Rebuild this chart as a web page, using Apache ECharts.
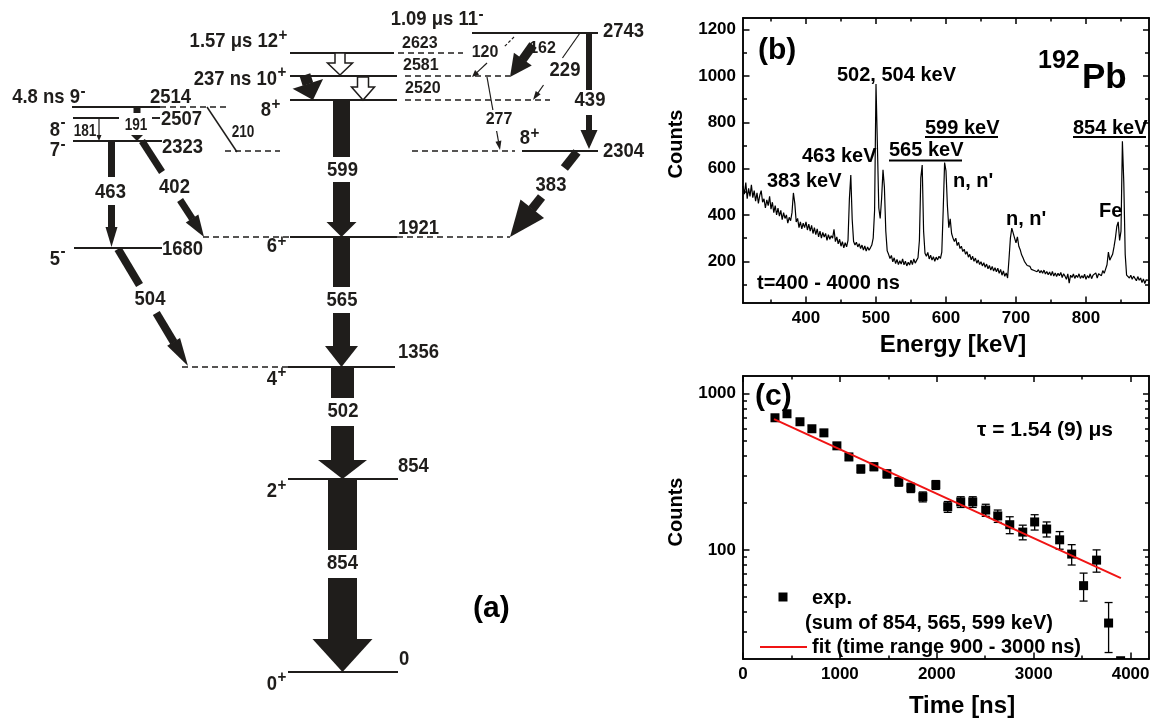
<!DOCTYPE html>
<html>
<head>
<meta charset="utf-8">
<title>192Pb level scheme, spectrum and decay curve</title>
<script src="https://cdn.jsdelivr.net/npm/echarts@6.0.0/dist/echarts.min.js"></script>
<style>
html,body{margin:0;padding:0;background:#fff;}
#chart{width:1158px;height:722px;}
</style>
</head>
<body>
<div id="chart"></div>
<script>
// ================= DATA =================
// ---- (a) level scheme of 192Pb ----
const levelEnergy = [0, 854, 1356, 1680, 1921, 2304, 2323, 2507, 2514, 2520, 2581, 2623, 2743];
const levelSpin   = ['0+', '2+', '4+', '5-', '6+', '8+', '7-', '8-', '9-', '8+', '10+', '12+', '11-'];
const levelLife   = ['', '', '', '', '', '', '', '', '4.8 ns', '', '237 ns', '1.57 \u03bcs', '1.09 \u03bcs'];
const gammaEnergy = [854, 502, 565, 599, 463, 402, 504, 383, 439, 181, 191, 210, 277, 229, 162, 120, 42, 61, 61];
const gammaFrom   = [1, 2, 4, 9, 6, 6, 3, 5, 12, 7, 8, 8, 10, 12, 12, 12, 11, 10, 10];
const gammaTo     = [0, 1, 2, 4, 3, 4, 2, 4, 5, 6, 6, 5, 5, 8, 10, 11, 10, 9, 9];

// ---- (b) delayed gamma spectrum [energy keV, counts] ----
const spectrum = [
[310,525],[312,490],[314,540],[316,470],[318,515],[320,480],[322,530],[324,475],[326,505],[328,460],
[330,495],[332,450],[334,485],[336,505],[338,455],[340,470],[342,430],[344,465],[346,440],[348,480],
[350,425],[352,455],[354,410],[356,440],[358,400],[360,430],[362,395],[364,420],[366,380],[368,410],
[370,385],[372,400],[374,365],[376,390],[378,375],[380,410],[382,495],[384,450],[386,370],[388,385],
[390,345],[392,370],[394,340],[396,365],[398,345],[400,370],[402,335],[404,360],[406,330],[408,355],
[410,320],[412,345],[414,315],[416,340],[418,305],[420,330],[422,300],[424,325],[426,305],[428,320],
[430,290],[432,315],[434,295],[436,310],[438,300],[440,338],[442,285],[444,305],[446,275],[448,295],
[450,265],[452,285],[454,258],[456,280],[458,262],[460,290],[462,470],[464,572],[466,380],[468,285],
[470,270],[472,282],[474,262],[476,276],[478,255],[480,270],[482,248],[484,266],[486,244],[488,262],
[490,248],[492,258],[494,270],[496,300],[498,420],[500,965],[502,700],[504,430],[506,385],[508,470],
[510,595],[512,520],[514,330],[516,245],[518,230],[520,212],[522,225],[524,198],[526,215],[528,190],
[530,208],[532,186],[534,202],[536,188],[538,210],[540,185],[542,200],[544,180],[546,196],[548,184],
[550,205],[552,186],[554,210],[556,192],[558,204],[560,215],[562,290],[564,560],[566,615],[568,330],
[570,235],[572,222],[574,238],[576,210],[578,226],[580,205],[582,220],[584,200],[586,218],[588,206],
[590,222],[592,212],[594,240],[596,420],[598,626],[600,590],[602,440],[604,345],[606,383],[608,320],
[610,300],[612,285],[614,300],[616,268],[618,282],[620,255],[622,265],[624,242],[626,252],[628,230],
[630,242],[632,218],[634,230],[636,206],[638,222],[640,200],[642,214],[644,192],[646,206],[648,186],
[650,198],[652,180],[654,194],[656,174],[658,188],[660,168],[662,182],[664,162],[666,178],[668,158],
[670,172],[672,155],[674,170],[676,148],[678,165],[680,140],[682,158],[684,135],[686,150],[688,128],
[690,210],[692,300],[694,343],[696,335],[698,300],[700,280],[702,305],[704,265],[706,250],[708,228],
[710,215],[712,200],[714,192],[716,182],[718,175],[720,178],[722,165],[724,172],[726,160],[728,168],
[730,155],[732,164],[734,150],[736,160],[738,148],[740,162],[742,145],[744,156],[746,142],[748,154],
[750,138],[752,156],[754,136],[756,150],[758,134],[760,148],[762,138],[764,152],[766,130],[768,146],
[770,136],[772,122],[774,146],[776,106],[778,140],[780,130],[782,145],[784,126],[786,140],[788,130],
[790,146],[792,126],[794,138],[796,128],[798,144],[800,122],[802,138],[804,128],[806,146],[808,125],
[810,140],[812,132],[814,150],[816,128],[818,146],[820,152],[822,138],[824,160],[826,148],[828,166],
[830,185],[832,240],[834,205],[836,218],[838,230],[840,262],[842,300],[844,350],[846,370],[848,290],
[850,330],[852,718],[854,540],[856,230],[858,140],[860,148],[862,128],[864,140],[866,122],[868,136],
[870,130],[872,116],[874,134],[876,118],[878,128],[880,108],[882,124],[884,104],[886,120],[888,112],
[890,118]
];
const energyMajor = [400, 500, 600, 700, 800];
const energyMinor = [350, 450, 550, 650, 750, 850];
const countMajor  = [200, 400, 600, 800, 1000, 1200];
const countMinor  = [100, 300, 500, 700, 900, 1100];

// ---- (c) decay curve ----
const decayTime   = [330, 454, 588, 711, 835, 969, 1093, 1216, 1351, 1485, 1608, 1732, 1856, 1990, 2113,
                     2247, 2371, 2505, 2629, 2753, 2887, 3010, 3134, 3268, 3392, 3515, 3649, 3773, 3897];
const decayCounts = [702, 745, 662, 597, 562, 464, 394, 330, 341, 307, 273, 250, 219, 261, 189,
                     203, 203, 180, 165, 145, 130, 151, 136, 116, 94, 59, 86, 34, 19.5];
const decayError  = [26, 27, 26, 24, 24, 22, 20, 19, 19, 18, 17, 17, 16, 17, 15,
                     16, 16, 16, 15, 18, 14, 17, 15, 15, 14, 12, 14, 12, 0];
const fitTime   = [320, 3900];
const fitCounts = [689, 66];
const timeMajor = [0, 1000, 2000, 3000, 4000];
const timeMinor = [500, 1500, 2500, 3500];
const logMajor  = [100, 1000];
const logMinor  = [30, 40, 50, 60, 70, 80, 90, 200, 300, 400, 500, 600, 700, 800, 900];

// ================= LAYOUT / STYLE =================
const SANS = '"Liberation Sans", Arial, Helvetica, sans-serif';
const F_BIG = {f: 'bold 21px ' + SANS, sx: 0.88};
const F_MID = {f: 'bold 16px ' + SANS, sx: 1};
const F_SMALL = {f: 'bold 17px ' + SANS, sx: 0.8};
const F_SUP = {f: 'bold 16px ' + SANS, sx: 0.95};
const F_LBL = 'bold 20px ' + SANS;
const INK = '#1f1d1b';

// level drawing layout (diagram is not to scale): y, solid/dashed x-ranges, energy label, spin label
const levelLayout = [
  {y: 672, solid: [[288, 398]], dash: [], e: [399, 659], s: [277, 684], sd: -6},
  {y: 479, solid: [[288, 398]], dash: [], e: [398, 466], s: [277, 491], sd: -5},
  {y: 367, solid: [[288, 395]], dash: [[182, 288]], e: [398, 352], s: [277, 379], sd: -6.5},
  {y: 248, solid: [[74, 162]], dash: [], e: [162, 249], s: [60, 259], sd: -7},
  {y: 237, solid: [[290, 397]], dash: [[203, 290], [397, 510]], e: [398, 228], s: [277, 246.5], sd: -4.5},
  {y: 151, solid: [[522, 598]], dash: [[412, 515], [225, 280]], e: [603, 151], s: [530, 138.5], sd: -4.5},
  {y: 141, solid: [[73, 162]], dash: [], e: [162, 147], s: [60, 150], sd: -5},
  {y: 118, solid: [[73, 119], [152, 160]], dash: [], e: [161, 119.5], s: [60, 130], sd: -7.5},
  {y: 107, solid: [[72, 160]], dash: [[160, 227]], e: [150, 97], s: [80, 97], sd: -5},
  {y: 100, solid: [[290, 397]], dash: [[405, 550]], e: [405, 89], s: [271, 110.5], sd: -5.5, ef: F_MID},
  {y: 76,  solid: [[290, 397]], dash: [[405, 510]], e: [403, 66], s: [277, 79], sd: -6.5, ef: F_MID},
  {y: 53,  solid: [[290, 394]], dash: [[398, 463]], e: [402, 44], s: [278, 41], sd: -5, ef: F_MID},
  {y: 33,  solid: [[472, 598]], dash: [], e: [603, 31], s: [478, 19], sd: -4}
];

// transition drawing layout: path, stem width, head width/length, label gap (y range), label position
const gammaLayout = [
  {p: [[342.5, 479], [342.5, 672]], w: 29, hw: 60, hl: 33, gap: [550, 578], lab: [342.5, 563], f: F_BIG},
  {p: [[342.5, 367], [342.5, 479]], w: 23, hw: 49, hl: 19, gap: [398, 426], lab: [343, 411], f: F_BIG},
  {p: [[341.5, 237], [341.5, 367]], w: 17, hw: 33, hl: 21, gap: [287, 313], lab: [342, 300], f: F_BIG},
  {p: [[341.5, 100], [341.5, 237]], w: 17, hw: 30, hl: 15, gap: [157, 182], lab: [342.5, 170], f: F_BIG},
  {p: [[111.5, 141], [111.5, 247]], w: 7, hw: 12, hl: 20, gap: [177, 205], lab: [110.5, 192.5], f: F_BIG},
  {p: [[142, 141], [204, 237]], w: 7, hw: 15, hl: 22, gap: [172, 200], lab: [174.5, 187.5], f: F_BIG},
  {p: [[118, 249], [188, 366]], w: 8, hw: 15, hl: 28, gap: [285, 313], lab: [150, 299.5], f: F_BIG},
  {p: [[577, 152], [510, 237]], w: 9, hw: 30, hl: 36, gap: [168, 197], lab: [551, 185], f: F_BIG},
  {p: [[589, 33], [589, 149]], w: 6, hw: 17, hl: 19, gap: [90, 115], lab: [590, 100.5], f: F_BIG},
  {p: [[99, 118], [99, 141]], w: 1.2, hw: 5, hl: 6, lab: [85, 131], f: F_SMALL},
  {p: [[137, 107], [137, 141]], w: 7, hw: 12, hl: 6, gap: [113, 135], lab: [136, 125], f: F_SMALL},
  {p: [[207, 107], [237, 152]], w: 1.5, hw: 0, hl: 0, lab: [243, 132.5], f: F_SMALL},
  {p: [[487, 77], [500, 150]], w: 1.2, hw: 6, hl: 9, gap: [110, 131], lab: [499, 119.5], f: F_MID},
  {p: [[580, 33], [533, 100]], w: 1.2, hw: 6, hl: 9, gap: [58, 85], lab: [565, 70.5], f: F_BIG},
  {p: [[533, 45], [510, 77]], w: 9, hw: 22, hl: 22, lab: [542.5, 49], f: F_MID},
  {p: [[487, 63], [472, 77]], w: 1.2, hw: 6, hl: 7, pre: [[514, 37], [504, 47]], lab: [485, 52.5], f: F_MID},
  {p: [[340, 53], [340, 75]], w: 10, hw: 25, hl: 12, kind: 'open'},
  {p: [[305, 75], [313, 100]], w: 11, hw: 32, hl: 17},
  {p: [[363, 77], [363, 100]], w: 11, hw: 23, hl: 13, kind: 'open'}
];

// ================= RENDERERS =================
function txt(x, y, text, F, align) {
  return {type: 'text', x: x, y: y, scaleX: F.sx, style: {text: text, font: F.f, fill: INK,
    align: align, verticalAlign: 'middle'}};
}

function levelRender(params, api) {
  const i = api.value(0);
  const L = levelLayout[i];
  const P = (x, y) => api.coord([x, y]);
  const kids = [];
  const seg = (x0, x1, y, dashed) => {
    const a = P(x0, y), b = P(x1, y);
    const st = {stroke: INK, lineWidth: dashed ? 1.4 : 1.9};
    if (dashed) st.lineDash = [6, 4];
    kids.push({type: 'line', shape: {x1: a[0], y1: a[1], x2: b[0], y2: b[1]}, style: st});
  };
  L.solid.forEach(s => seg(s[0], s[1], L.y, false));
  L.dash.forEach(s => seg(s[0], s[1], L.y, true));
  const e = P(L.e[0], L.e[1]);
  kids.push(txt(e[0], e[1], String(levelEnergy[i]), L.ef || F_BIG, 'left'));
  const spin = levelSpin[i];
  const main = (levelLife[i] ? levelLife[i] + ' ' : '') + spin.slice(0, -1);
  const s = P(L.s[0], L.s[1]);
  kids.push(txt(s[0], s[1], main, F_BIG, 'right'));
  const u = P(L.s[0] + 0.5, L.s[1] + L.sd);
  kids.push(txt(u[0], u[1], spin.slice(-1), F_SUP, 'left'));
  return {type: 'group', children: kids};
}

function gammaRender(params, api) {
  const i = api.value(0);
  const G = gammaLayout[i];
  const kids = [];
  const a = api.coord(G.p[0]), b = api.coord(G.p[1]);
  const dx = b[0] - a[0], dy = b[1] - a[1], len = Math.hypot(dx, dy);
  const ux = dx / len, uy = dy / len, nx = -uy, ny = ux;
  const at = (t, off) => [a[0] + ux * t + nx * off, a[1] + uy * t + ny * off];
  const stemEnd = len - (G.hl || 0);
  let parts = [[0, stemEnd + (G.hl ? 0.5 : 0)]];
  if (G.gap) {
    const span = G.p[1][1] - G.p[0][1];
    const t0 = (G.gap[0] - G.p[0][1]) / span * len;
    const t1 = (G.gap[1] - G.p[0][1]) / span * len;
    parts = [[0, Math.min(t0, stemEnd)], [t1, stemEnd + 0.5]];
  }
  if (G.kind === 'open') {
    const hw = G.hw / 2, w = G.w / 2;
    kids.push({type: 'polygon', shape: {points: [at(0, -w), at(0, w), at(stemEnd, w), at(stemEnd, hw),
      at(len, 0), at(stemEnd, -hw), at(stemEnd, -w)]}, style: {fill: '#fff', stroke: INK, lineWidth: 1.5}});
  } else {
    parts.forEach(pt => {
      const t0 = pt[0], t1 = pt[1];
      if (t1 - t0 < 0.5) return;
      if (G.w < 2.5) {
        const p0 = at(t0, 0), p1 = at(t1, 0);
        kids.push({type: 'line', shape: {x1: p0[0], y1: p0[1], x2: p1[0], y2: p1[1]},
          style: {stroke: INK, lineWidth: G.w}});
      } else {
        kids.push({type: 'polygon', shape: {points: [at(t0, -G.w / 2), at(t1, -G.w / 2), at(t1, G.w / 2), at(t0, G.w / 2)]},
          style: {fill: INK}});
      }
    });
    if (G.hl) {
      kids.push({type: 'polygon', shape: {points: [at(stemEnd, -G.hw / 2), at(len, 0), at(stemEnd, G.hw / 2)]},
        style: {fill: INK}});
    }
  }
  if (G.pre) {
    const q0 = api.coord(G.pre[0]), q1 = api.coord(G.pre[1]);
    kids.push({type: 'line', shape: {x1: q0[0], y1: q0[1], x2: q1[0], y2: q1[1]},
      style: {stroke: INK, lineWidth: 1.2, lineDash: [3, 2]}});
  }
  if (G.lab) {
    const c = api.coord(G.lab);
    kids.push(txt(c[0], c[1], String(gammaEnergy[i]), G.f, 'center'));
  }
  return {type: 'group', children: kids};
}

function decayRender(params, api) {
  const t = api.value(0), n = api.value(1), e = api.value(2);
  const c = api.coord([t, n]);
  const kids = [];
  if (e > 0) {
    const top = api.coord([t, n + e]), bot = api.coord([t, Math.max(n - e, 1)]);
    const st = {stroke: '#000', lineWidth: 1.3};
    kids.push({type: 'line', shape: {x1: c[0], y1: top[1], x2: c[0], y2: bot[1]}, style: st});
    kids.push({type: 'line', shape: {x1: c[0] - 4, y1: top[1], x2: c[0] + 4, y2: top[1]}, style: st});
    kids.push({type: 'line', shape: {x1: c[0] - 4, y1: bot[1], x2: c[0] + 4, y2: bot[1]}, style: st});
  }
  kids.push({type: 'rect', shape: {x: c[0] - 4.5, y: c[1] - 4.5, width: 9, height: 9}, style: {fill: '#000'}});
  return {type: 'group', children: kids};
}

// ================= AXES =================
const AXL = {color: '#000', width: 1.5};
function mkAxis(grid, pos, min, max, ticks, len, labels, type) {
  const o = {
    type: type || 'value', gridIndex: grid, position: pos, min: min, max: max,
    axisLine: {show: true, onZero: false, lineStyle: AXL},
    axisTick: {show: true, inside: true, length: len, customValues: ticks, lineStyle: AXL},
    axisLabel: {show: !!labels, customValues: ticks, margin: 7, color: '#000', fontFamily: SANS,
      fontWeight: 'bold', fontSize: 17, formatter: v => String(v)},
    splitLine: {show: false}, minorTick: {show: false}
  };
  if (type === 'log') o.logBase = 10;
  return o;
}

// ================= GRAPHIC TEXT =================
function T(x, y, text, font, align) {
  return {type: 'text', x: x, y: y, z: 50, silent: true,
    style: {text: text, font: font, fill: '#000', align: align || 'left', verticalAlign: 'middle'}};
}
function HL(x1, x2, y, color, w) {
  return {type: 'line', z: 50, silent: true, shape: {x1: x1, y1: y, x2: x2, y2: y},
    style: {stroke: color || '#000', lineWidth: w || 2.2}};
}
const graphics = [
  T(473, 609, '(a)', 'bold 30px ' + SANS),
  // (b)
  T(758, 51, '(b)', 'bold 30px ' + SANS),
  T(837, 75, '502, 504 keV', F_LBL),
  T(1038, 61, '192', 'bold 25px ' + SANS),
  T(1082, 78, 'Pb', 'bold 35px ' + SANS),
  T(925, 128, '599 keV', F_LBL), HL(925, 998, 137),
  T(889, 150, '565 keV', F_LBL), HL(889, 962, 160.5),
  T(1073, 128, '854 keV', F_LBL), HL(1073, 1146, 137),
  T(802, 156, '463 keV', F_LBL),
  T(767, 181, '383 keV', F_LBL),
  T(953, 181, "n, n'", F_LBL),
  T(1006, 219, "n, n'", F_LBL),
  T(1099, 211, 'Fe', F_LBL),
  T(757, 283, 't=400 - 4000 ns', F_LBL),
  T(953, 345, 'Energy [keV]', 'bold 24px ' + SANS, 'center'),
  Object.assign(T(676, 144, 'Counts', 'bold 20px ' + SANS, 'center'), {rotation: Math.PI / 2}),
  // (c)
  T(755, 397, '(c)', 'bold 30px ' + SANS),
  T(977, 430, '\u03c4 = 1.54 (9) \u03bcs', 'bold 21px ' + SANS),
  Object.assign(T(676, 512, 'Counts', 'bold 20px ' + SANS, 'center'), {rotation: Math.PI / 2}),
  T(962, 706, 'Time [ns]', 'bold 24px ' + SANS, 'center'),
  {type: 'rect', z: 50, silent: true, shape: {x: 778.5, y: 592.5, width: 9, height: 9}, style: {fill: '#000'}},
  T(812, 598, 'exp.', F_LBL),
  T(805, 623, '(sum of 854, 565, 599 keV)', F_LBL),
  HL(760, 807, 647, '#f01414', 2),
  T(812, 647, 'fit (time range 900 - 3000 ns)', F_LBL)
];

// ================= OPTION =================
const option = {
  animation: false,
  backgroundColor: '#fff',
  grid: [
    {left: 0, top: 0, width: 1158, height: 722, show: false},
    {left: 743, top: 18, width: 406, height: 285, show: false},
    {left: 743, top: 376, width: 406, height: 283, show: false}
  ],
  xAxis: [
    {type: 'value', gridIndex: 0, min: 0, max: 1158, show: false},
    mkAxis(1, 'bottom', 310, 890, energyMajor, 6.5, true),
    mkAxis(1, 'top', 310, 890, energyMajor, 6, false),
    mkAxis(1, 'bottom', 310, 890, energyMinor, 3.5, false),
    mkAxis(1, 'top', 310, 890, energyMinor, 3.5, false),
    mkAxis(2, 'bottom', 0, 4190, timeMajor, 6.5, true),
    mkAxis(2, 'top', 0, 4190, timeMajor, 6, false),
    mkAxis(2, 'bottom', 0, 4190, timeMinor, 3.5, false),
    mkAxis(2, 'top', 0, 4190, timeMinor, 3.5, false)
  ],
  yAxis: [
    {type: 'value', gridIndex: 0, min: 0, max: 722, inverse: true, show: false},
    mkAxis(1, 'left', 20, 1250, countMajor, 6.5, true),
    mkAxis(1, 'right', 20, 1250, countMajor, 6, false),
    mkAxis(1, 'left', 20, 1250, countMinor, 4, false),
    mkAxis(1, 'right', 20, 1250, countMinor, 4, false),
    mkAxis(2, 'left', 20, 1300, logMajor, 6.5, true, 'log'),
    mkAxis(2, 'right', 20, 1300, logMajor, 6, false, 'log'),
    mkAxis(2, 'left', 20, 1300, logMinor, 4, false, 'log'),
    mkAxis(2, 'right', 20, 1300, logMinor, 4, false, 'log')
  ],
  series: [
    {type: 'custom', name: 'levels', xAxisIndex: 0, yAxisIndex: 0, renderItem: levelRender,
      data: levelEnergy.map((e, i) => [i, e]), silent: true, z: 2},
    {type: 'custom', name: 'transitions', xAxisIndex: 0, yAxisIndex: 0, renderItem: gammaRender,
      data: gammaEnergy.map((e, i) => [i, e, gammaFrom[i], gammaTo[i]]), silent: true, z: 3},
    {type: 'line', name: 'spectrum', xAxisIndex: 1, yAxisIndex: 1, data: spectrum, symbol: 'none',
      lineStyle: {color: '#000', width: 1.2}, silent: true, z: 2},
    {type: 'custom', name: 'exp.', xAxisIndex: 5, yAxisIndex: 5, renderItem: decayRender, clip: true,
      data: decayTime.map((t, i) => [t, decayCounts[i], decayError[i]]), silent: true, z: 2},
    {type: 'line', name: 'fit', xAxisIndex: 5, yAxisIndex: 5, data: fitTime.map((t, i) => [t, fitCounts[i]]),
      symbol: 'none', lineStyle: {color: '#f01414', width: 2}, silent: true, z: 3}
  ],
  graphic: {elements: graphics}
};

const chart = echarts.init(document.getElementById('chart'));
chart.setOption(option);
</script>
</body>
</html>
